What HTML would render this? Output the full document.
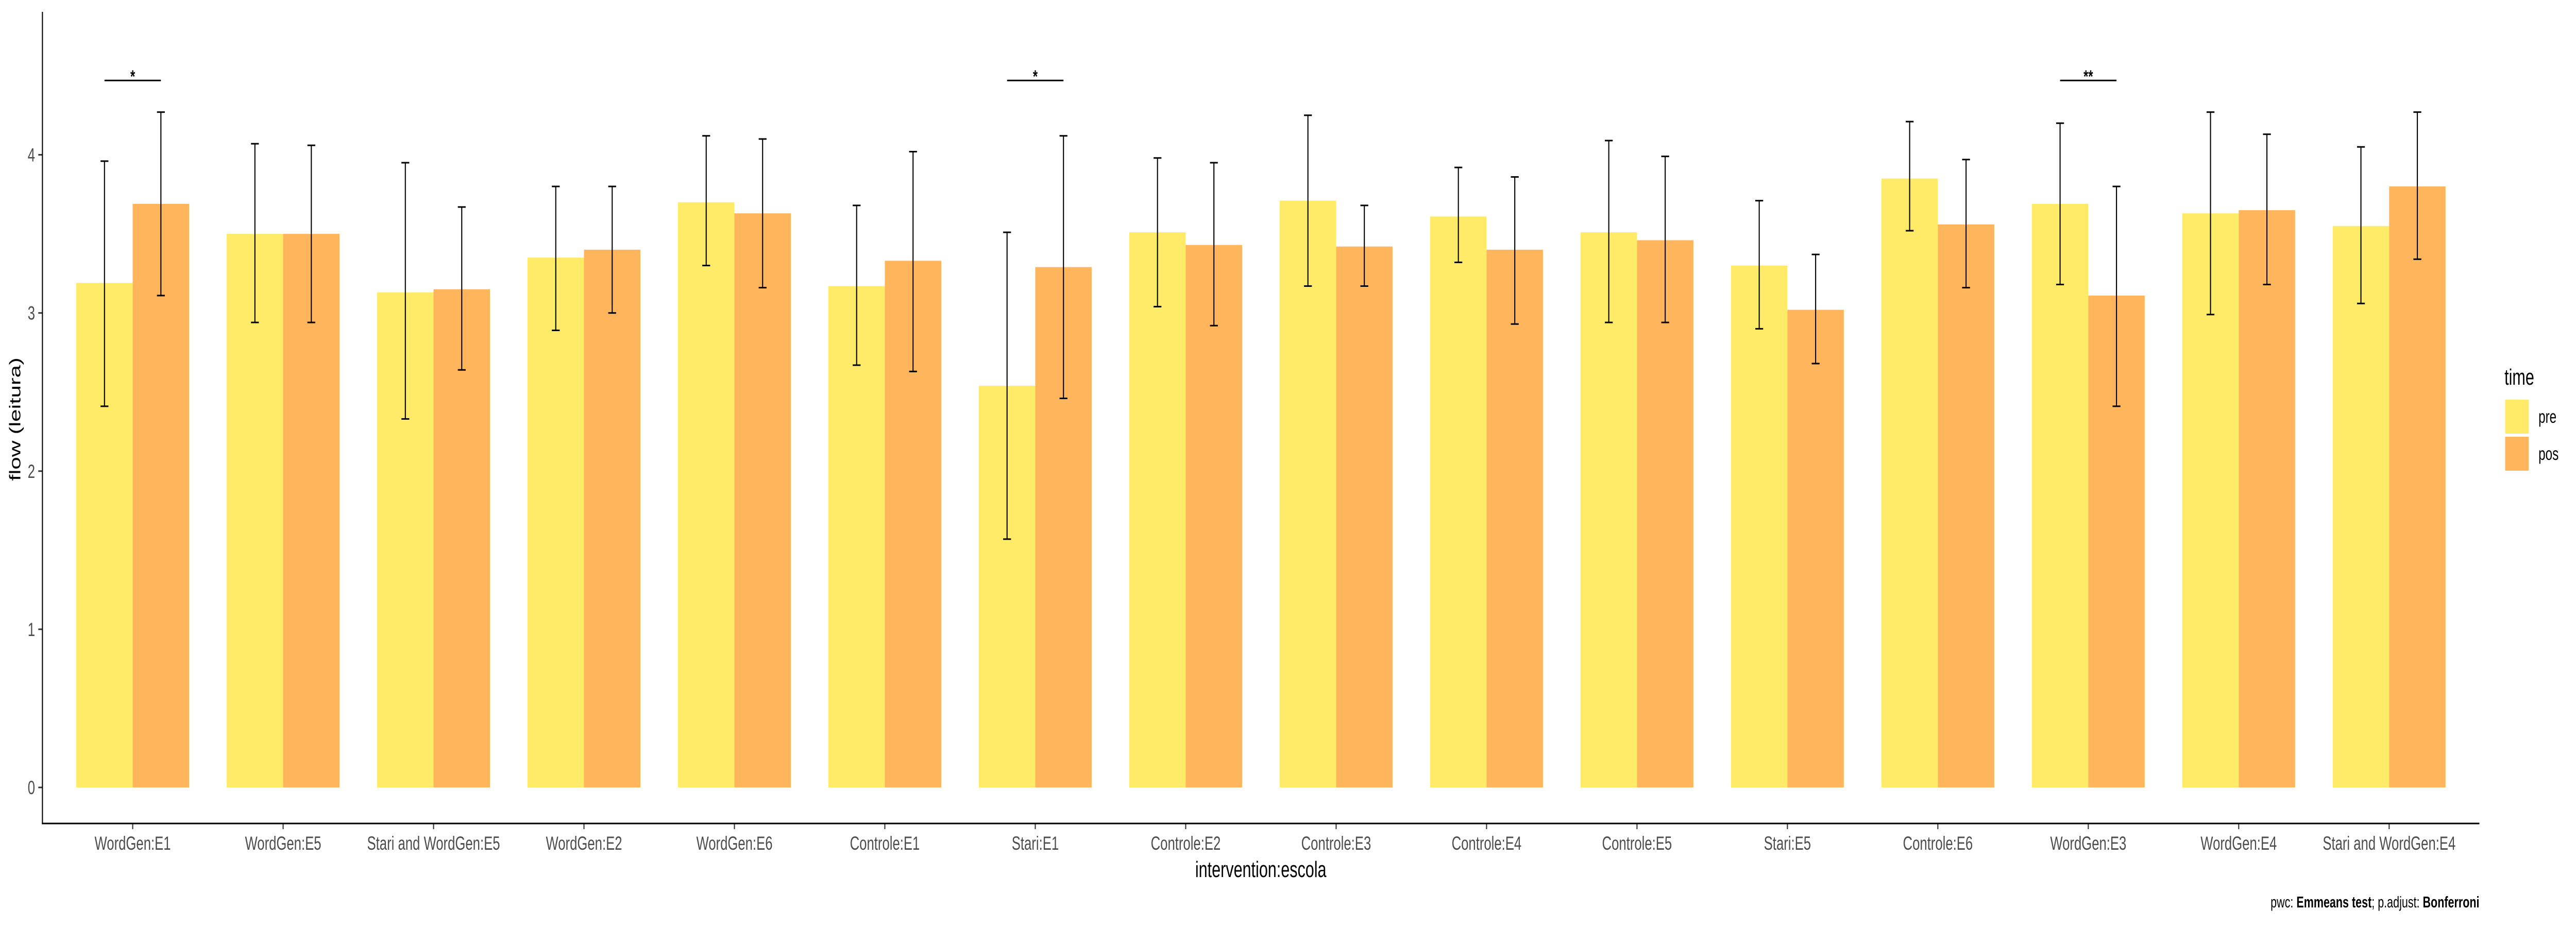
<!DOCTYPE html>
<html><head><meta charset="utf-8"><style>
html,body{margin:0;padding:0;background:#fff;width:100vw;height:100vh;overflow:hidden;}
svg{display:block;font-family:"Liberation Sans",Arial,sans-serif;width:100vw;height:100vh;}
</style></head><body>
<svg id="chart" viewBox="0 0 7200 1800" preserveAspectRatio="none" xmlns="http://www.w3.org/2000/svg">
<g id="bars"></g>
<g id="errs"></g>
<g id="sig"></g>
<g id="axes"></g>
<text x="0" y="0" transform="translate(57,814) rotate(-90)" text-anchor="middle" font-size="44" fill="#000">flow (leitura)</text>
<text x="3524" y="1703" text-anchor="middle" font-size="44" fill="#000">intervention:escola</text>
<text x="6930" y="1762" text-anchor="end" font-size="31" fill="#000">pwc: <tspan font-weight="bold">Emmeans test</tspan>; p.adjust: <tspan font-weight="bold">Bonferroni</tspan></text>
<g>
<text x="7000" y="747" font-size="44" fill="#000">time</text>
<rect x="7002" y="776" width="66" height="66" fill="#FFEB68"/>
<text x="7095" y="821" font-size="35" fill="#000">pre</text>
<rect x="7002" y="848" width="66" height="66" fill="#FFB55C"/>
<text x="7095" y="893" font-size="35" fill="#000">pos</text>
</g>
</svg>
<script>
const categories = ["WordGen:E1","WordGen:E5","Stari and WordGen:E5","WordGen:E2","WordGen:E6","Controle:E1","Stari:E1","Controle:E2","Controle:E3","Controle:E4","Controle:E5","Stari:E5","Controle:E6","WordGen:E3","WordGen:E4","Stari and WordGen:E4"];
const preValues = [3.19,3.50,3.13,3.35,3.70,3.17,2.54,3.51,3.71,3.61,3.51,3.30,3.85,3.69,3.63,3.55];
const preUpper  = [3.96,4.07,3.95,3.80,4.12,3.68,3.51,3.98,4.25,3.92,4.09,3.71,4.21,4.20,4.27,4.05];
const preLower  = [2.41,2.94,2.33,2.89,3.30,2.67,1.57,3.04,3.17,3.32,2.94,2.90,3.52,3.18,2.99,3.06];
const posValues = [3.69,3.50,3.15,3.40,3.63,3.33,3.29,3.43,3.42,3.40,3.46,3.02,3.56,3.11,3.65,3.80];
const posUpper  = [4.27,4.06,3.67,3.80,4.10,4.02,4.12,3.95,3.68,3.86,3.99,3.37,3.97,3.80,4.13,4.27];
const posLower  = [3.11,2.94,2.64,3.00,3.16,2.63,2.46,2.92,3.17,2.93,2.94,2.68,3.16,2.41,3.18,3.34];
const yTicks = [0,1,2,3,4];
const sigGroups = [0,6,13];
const sigLabels = ["*","*","**"];
const sigLevel = 4.47;

const NS="http://www.w3.org/2000/svg";
const X0=118.6, X1=6930, step=(X1-X0)/(categories.length+0.2);
const Y0=1529, unit=307.1;
function xc(i){return X0+step*(i+0.6);}
function y(v){return Y0-unit*v;}
const bw=step*0.375;
function mk(tag,attrs,parent){const e=document.createElementNS(NS,tag);for(const k in attrs)e.setAttribute(k,attrs[k]);parent.appendChild(e);return e;}
const gb=document.getElementById('bars'),ge=document.getElementById('errs'),gs=document.getElementById('sig'),ga=document.getElementById('axes');
categories.forEach((c,i)=>{
  const cx=xc(i);
  const series=[[preValues,preUpper,preLower,'#FFEB68','pre',cx-bw],[posValues,posUpper,posLower,'#FFB55C','pos',cx]];
  series.forEach(s=>{
    const v=s[0][i];
    const r=mk('rect',{x:s[5],y:y(v),width:bw,height:y(0)-y(v),fill:s[3]},gb);
    
    
    const ex=s[5]+bw/2, hi=y(s[1][i]), lo=y(s[2][i]);
    const eg=mk('g',{stroke:'#000','stroke-width':3},ge);
    
    
    mk('line',{x1:ex,x2:ex,y1:hi,y2:lo},eg);
    mk('line',{x1:ex-11,x2:ex+11,y1:hi,y2:hi},eg);
    mk('line',{x1:ex-11,x2:ex+11,y1:lo,y2:lo},eg);
  });
  const tk=mk('line',{x1:cx,x2:cx,y1:1599,y2:1610,stroke:'#333','stroke-width':3},ga);
  
  
  const t=mk('text',{x:cx,y:1650,'text-anchor':'middle','font-size':37,fill:'#4D4D4D'},ga);
  
  
  t.textContent=c;
});
sigGroups.forEach((g,k)=>{
  const cx=xc(g), yy=y(sigLevel);
  const l=mk('line',{x1:cx-bw/2,x2:cx+bw/2,y1:yy,y2:yy,stroke:'#000','stroke-width':3},gs);
  
  
  const t=mk('text',{x:cx,y:yy+4,'text-anchor':'middle','font-size':34,'font-weight':'bold',fill:'#000'},gs);
  
  
  t.textContent=sigLabels[k];
});
yTicks.forEach(v=>{
  const tk=mk('line',{x1:107,x2:118.6,y1:y(v),y2:y(v),stroke:'#333','stroke-width':3},ga);
  
  
  const t=mk('text',{x:98,y:y(v)+13,'text-anchor':'end','font-size':37,fill:'#4D4D4D'},ga);
  
  
  t.textContent=v;
});
const ya=mk('line',{x1:118.6,x2:118.6,y1:23,y2:1600.5,stroke:'#000','stroke-width':3},ga);


const xa=mk('line',{x1:117,x2:X1,y1:1599,y2:1599,stroke:'#000','stroke-width':3},ga);


</script>
</body></html>
